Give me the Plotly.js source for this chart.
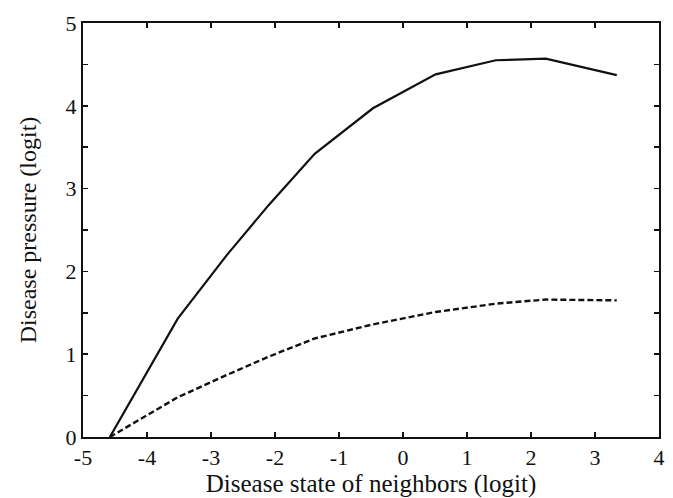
<!DOCTYPE html>
<html>
<head>
<meta charset="utf-8">
<script src="https://cdn.plot.ly/plotly-3.0.1.min.js"></script>
<style>html,body{margin:0;padding:0;background:#fff;}#chart{width:673px;height:498px;}</style>
</head>
<body>
<div id="chart"></div>
<script>
// Data
const xSolid = [-4.58, -3.52, -2.75, -2.1, -1.38, -0.47, 0.51, 1.45, 2.23, 3.34];
const ySolid = [0, 1.43, 2.2, 2.8, 3.42, 3.97, 4.38, 4.55, 4.57, 4.37];
const xDashed = [-4.58, -3.52, -2.75, -2.1, -1.38, -0.47, 0.51, 1.45, 2.23, 3.34];
const yDashed = [0, 0.48, 0.75, 0.97, 1.19, 1.36, 1.51, 1.61, 1.66, 1.65];
const xTicks = [-5, -4, -3, -2, -1, 0, 1, 2, 3, 4];
const yTickVals = [0, 0.5, 1, 1.5, 2, 2.5, 3, 3.5, 4, 4.5, 5];
const yTickText = ['0', '', '1', '', '2', '', '3', '', '4', '', '5'];

const fam = '"Liberation Serif", "Times New Roman", serif';
const tickFont = {family: fam, color: '#111', size: 22};
const xTitleFont = {family: fam, color: '#111', size: 25};
const yTitleFont = {family: fam, color: '#111', size: 24};

const traces = [
  {x: xSolid, y: ySolid, mode: 'lines', line: {color: '#111', width: 2.2}, hoverinfo: 'skip'},
  {x: xDashed, y: yDashed, mode: 'lines', line: {color: '#111', width: 2.4, dash: '6px,3px'}, hoverinfo: 'skip'}
];

const layout = {
  width: 673, height: 498,
  margin: {l: 83, r: 14, t: 23, b: 61},
  paper_bgcolor: '#fff', plot_bgcolor: '#fff',
  showlegend: false,
  font: xTitleFont,
  xaxis: {
    range: [-5, 4], tickvals: xTicks, ticktext: xTicks.map(String),
    ticks: 'inside', ticklen: 5, tickwidth: 1.5, tickcolor: '#111',
    showline: true, linecolor: '#111', linewidth: 2, mirror: 'allticks',
    showgrid: false, zeroline: false, tickfont: tickFont,
    title: {text: 'Disease state of neighbors (logit)', font: xTitleFont, standoff: 2},
    automargin: false
  },
  yaxis: {
    range: [0, 5], tickvals: yTickVals, ticktext: yTickText,
    ticks: 'inside', ticklen: 5, tickwidth: 1.5, tickcolor: '#111',
    showline: true, linecolor: '#111', linewidth: 2, mirror: 'allticks',
    showgrid: false, zeroline: false, tickfont: tickFont,
    title: {text: 'Disease pressure (logit)', font: yTitleFont, standoff: 22},
    automargin: false
  }
};

Plotly.newPlot('chart', traces, layout, {staticPlot: true, displayModeBar: false});
</script>
</body>
</html>
